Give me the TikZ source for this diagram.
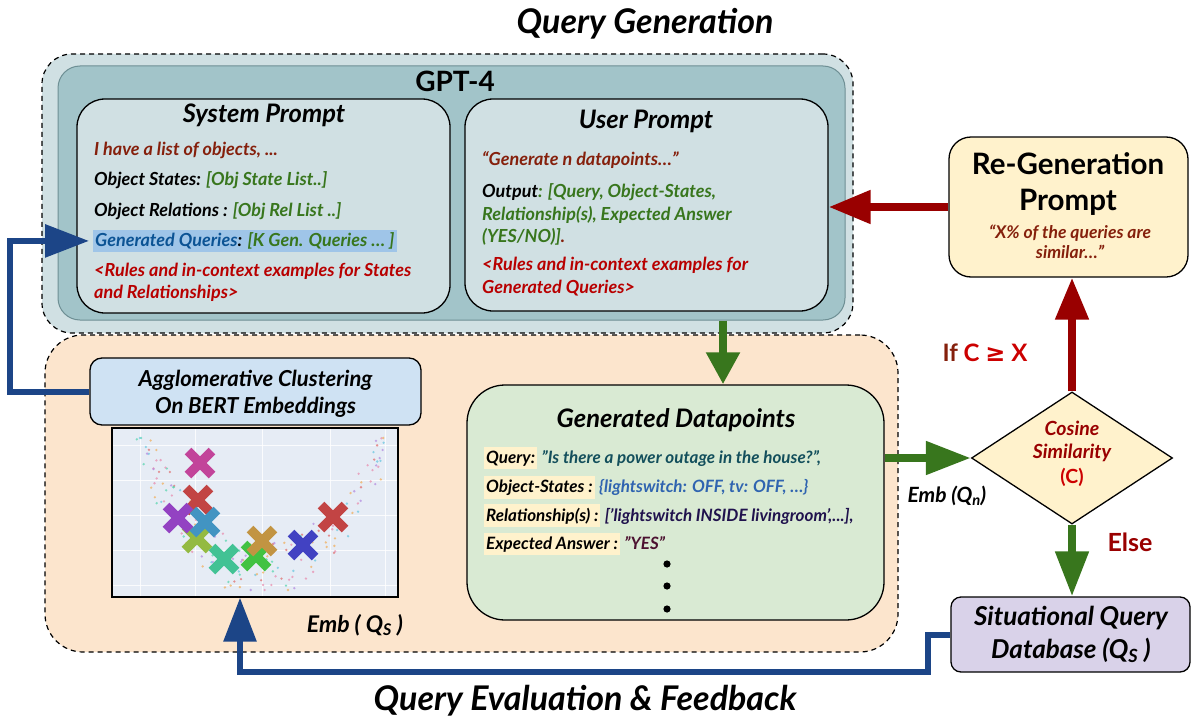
\documentclass[tikz,border=0pt]{standalone}
\usepackage{fontspec}
\setmainfont{Lato}
\newfontfamily\djv{DejaVu Sans}
\usetikzlibrary{arrows.meta,shapes.geometric}
\definecolor{topfill}{HTML}{D0E0E3}
\definecolor{gptfill}{HTML}{A2C4C9}
\definecolor{gptline}{HTML}{6E8F94}
\definecolor{lowfill}{HTML}{FCE5CD}
\definecolor{aggfill}{HTML}{CFE2F3}
\definecolor{plotfill}{HTML}{E6ECF5}
\definecolor{gdpfill}{HTML}{D9EAD3}
\definecolor{yelfill}{HTML}{FFF2CC}
\definecolor{sitfill}{HTML}{D9D2E9}
\definecolor{hlblue}{HTML}{9FC5E8}
\definecolor{dred}{HTML}{85200C}
\definecolor{rred}{HTML}{B80000}
\definecolor{ggreen}{HTML}{38761D}
\definecolor{qblue}{HTML}{0B5394}
\definecolor{qteal}{HTML}{134F5C}
\definecolor{osblue}{HTML}{2F64B0}
\definecolor{relpur}{HTML}{20124D}
\definecolor{yesmar}{HTML}{4C1130}
\definecolor{brightred}{HTML}{CC0000}
\definecolor{arred}{HTML}{990000}
\definecolor{argreen}{HTML}{38761D}
\definecolor{arblue}{HTML}{1C4587}
\definecolor{xmag}{HTML}{C2449A}
\definecolor{xred}{HTML}{C24444}
\definecolor{xpur}{HTML}{9342C2}
\definecolor{xcyan}{HTML}{4294C2}
\definecolor{xolive}{HTML}{94BA42}
\definecolor{xteal}{HTML}{42C294}
\definecolor{xgreen}{HTML}{42C242}
\definecolor{xbrown}{HTML}{C29442}
\definecolor{xblue}{HTML}{4242C2}
\definecolor{dA}{HTML}{E88FB0}
\definecolor{dB}{HTML}{B48CE0}
\definecolor{dC}{HTML}{5CD6B0}
\definecolor{dD}{HTML}{F0B060}
\definecolor{dE}{HTML}{E07070}
\definecolor{dF}{HTML}{6CC8E0}
\begin{document}
\begin{tikzpicture}[x=1pt,y=-1pt,
  boxnode/.style={draw=black, line width=1.3pt, inner sep=0pt},
  dashbox/.style={draw=black, line width=1.2pt, dash pattern=on 5pt off 4pt, inner sep=0pt},
  bodytxt/.style={inner sep=0pt, anchor=base west, font=\fontsize{18}{21}\selectfont\bfseries\itshape},
  dptxt/.style={inner sep=0pt, anchor=base west, font=\fontsize{17}{20}\selectfont\bfseries\itshape},
  ctr/.style={inner sep=0pt, anchor=base},
  boxtitle/.style={ctr, font=\fontsize{25.5}{30}\selectfont\bfseries\itshape},
  bigtitle/.style={ctr, font=\fontsize{34}{40}\selectfont\bfseries\itshape},
  gptitle/.style={ctr, font=\fontsize{28}{32}\selectfont\bfseries},
  redarrow/.style={draw=arred, line width=8pt, -{Triangle[length=42pt,width=32pt]}},
  greenarrow/.style={draw=argreen, line width=8pt, -{Triangle[length=45pt,width=32pt]}},
  bluearrow/.style={draw=arblue, line width=6pt, -{Triangle[length=44pt,width=32pt]}},
  xmark/.style={line width=9.5pt}
]
\useasboundingbox (0,0) rectangle (1191,717);

% ---------- top region ----------
\node[bigtitle] (titletop) at (645,34) {Query Generation};
\node[dashbox, fill=topfill, rounded corners=30pt, minimum width=811pt, minimum height=279pt] (topouter) at (447.5,193.5) {};
\node[draw=gptline, line width=1pt, fill=gptfill, rounded corners=22pt, inner sep=0pt, minimum width=787pt, minimum height=254pt] (gpt) at (451.5,193) {};
\node[gptitle] (gpttitle) at (455,92) {GPT-4};

\node[boxnode, fill=topfill, rounded corners=28pt, minimum width=373pt, minimum height=214pt] (sys) at (263.5,206) {};
\node[boxtitle] (systitle) at (264,122) {System Prompt};
\node[bodytxt] (s1) at (94,155) {\color{dred}I have a list of objects, ...};
\node[bodytxt] (s2) at (94,185) {Object States: \color{ggreen}[Obj State List..]};
\node[bodytxt] (s3) at (94,216.5) {Object Relations : \color{ggreen}[Obj Rel List ..]};
\node[bodytxt, fill=hlblue, inner xsep=2pt, inner ysep=3pt] (gq) at (93,246.5) {{\color{qblue}Generated Queries}: \color{ggreen}[K Gen. Queries … ]};
\node[bodytxt] (s5) at (94,276.5) {\color{rred}<Rules and in-context examples for States};
\node[bodytxt] (s6) at (94,298.5) {\color{rred}and Relationships>};

\node[boxnode, fill=topfill, rounded corners=28pt, minimum width=363pt, minimum height=212pt] (user) at (646.5,205) {};
\node[boxtitle] (usertitle) at (646,128) {User Prompt};
\node[bodytxt] (u1) at (482,165) {\color{dred}“Generate n datapoints…”};
\node[bodytxt] (u2) at (482,197) {Output\color{ggreen}: [Query, Object-States,};
\node[bodytxt] (u3) at (482,220) {\color{ggreen}Relationship(s), Expected Answer};
\node[bodytxt] (u4) at (482,242) {\color{ggreen}(YES/NO)]{\color{dred}.}};
\node[bodytxt] (u5) at (482,270) {\color{rred}<Rules and in-context examples for};
\node[bodytxt] (u6) at (482,293) {\color{rred}Generated Queries>};

% ---------- lower region ----------
\node[dashbox, fill=lowfill, rounded corners=38pt, minimum width=853pt, minimum height=317pt] (lower) at (471.5,493.5) {};

\node[boxnode, fill=aggfill, rounded corners=12pt, minimum width=331pt, minimum height=67pt] (agg) at (255.5,391.5) {};
\node[ctr, font=\fontsize{22}{26}\selectfont\bfseries\itshape] (agg1) at (255.5,386) {Agglomerative Clustering};
\node[ctr, font=\fontsize{22}{26}\selectfont\bfseries\itshape] (agg2) at (255.5,413) {On BERT Embeddings};

\node[draw=black, line width=1.3pt, fill=plotfill, inner sep=0pt, minimum width=286pt, minimum height=169pt] (plot) at (255,512.5) {};
\begin{scope}
  \clip (113,429) rectangle (397,596);
  \foreach \gx in {140,195,262,330,385} {\draw[white, line width=0.7pt, opacity=0.8] (\gx,429) -- (\gx,596);}
  \foreach \gy in {445,480,515,550,585} {\draw[white, line width=0.7pt, opacity=0.8] (113,\gy) -- (397,\gy);}
  \pgfmathsetseed{42}
  \pgfmathdeclarerandomlist{dotc}{{dA}{dB}{dC}{dD}{dE}{dF}}
  \foreach \i in {1,...,170} {
    \pgfmathsetmacro\px{135+250*rnd}
    \pgfmathsetmacro\py{max(438,min(590,572-0.0085*(\px-262)*(\px-262)+56*(rnd-0.5)))}
    \pgfmathrandomitem{\dcol}{dotc}
    \fill[\dcol, opacity=0.75] (\px,\py) circle[radius=1.3pt];
  }
  \foreach \cx/\cy/\cc in {200/463/xmag, 198/500/xred, 197/538/xolive, 178/518/xpur, 205/522/xcyan, 224/559/xteal, 256/556/xgreen, 262/541/xbrown, 303/545/xblue, 333/517/xred} {
    \draw[xmark, \cc] (\cx-12,\cy-12) -- (\cx+12,\cy+12);
    \draw[xmark, \cc] (\cx-12,\cy+12) -- (\cx+12,\cy-12);
  }
\end{scope}
\node[ctr, font=\fontsize{23}{27}\selectfont\bfseries\itshape] (embqs) at (355,632) {Emb ( Q\textsubscript{S} )};

\node[boxnode, fill=gdpfill, rounded corners=38pt, minimum width=417pt, minimum height=235pt] (gendp) at (675.5,502.5) {};
\node[boxtitle] (gdptitle) at (676,427) {Generated Datapoints};
\tikzset{hl/.style={dptxt, fill=yelfill, inner xsep=2pt, inner ysep=3.5pt}}
\node[hl] (d1) at (484,463) {Query:};
\node[dptxt] (d1v) at ([xshift=4pt]d1.base east) {\color{qteal}"Is there a power outage in the house?",};
\node[hl] (d2) at (484,492) {Object-States :};
\node[dptxt] (d2v) at ([xshift=4pt]d2.base east) {\color{osblue}\{lightswitch: OFF, tv: OFF, …\}};
\node[hl] (d3) at (484,521) {Relationship(s) :};
\node[dptxt] (d3v) at ([xshift=4pt]d3.base east) {\color{relpur}['lightswitch INSIDE livingroom',...],};
\node[hl] (d4) at (484,549) {Expected Answer :};
\node[dptxt] (d4v) at ([xshift=4pt]d4.base east) {\color{yesmar}"YES"};
\foreach \dy in {564,586,609} {\fill (667,\dy) circle[radius=3.6pt];}

% ---------- right side ----------
\node[boxnode, fill=yelfill, rounded corners=22pt, minimum width=239pt, minimum height=140pt] (regen) at (1068.5,207) {};
\node[ctr, font=\fontsize{29.5}{34}\selectfont\bfseries] (regen1) at (1068,174) {Re-Generation};
\node[ctr, font=\fontsize{29.5}{34}\selectfont\bfseries] (regen2) at (1068,210) {Prompt};
\node[ctr, font=\fontsize{17.5}{21}\selectfont\bfseries\itshape, text=dred] (regen3) at (1070,238.5) {“X\% of the queries are};
\node[ctr, font=\fontsize{17.5}{21}\selectfont\bfseries\itshape, text=dred] (regen4) at (1070,258) {similar…”};

\node[draw=black, line width=1.3pt, fill=yelfill, diamond, aspect=1.52, inner sep=0pt, minimum width=201pt, minimum height=132pt] (dia) at (1072,458) {};
\node[ctr, font=\fontsize{19.5}{23}\selectfont\bfseries\itshape, text=arred] (dia1) at (1072,435) {Cosine};
\node[ctr, font=\fontsize{19.5}{23}\selectfont\bfseries\itshape, text=arred] (dia2) at (1072,458.5) {Similarity};
\node[ctr, font=\fontsize{19.5}{23}\selectfont\bfseries, text=brightred] (dia3) at (1072,483) {(C)};

\node[ctr, font=\fontsize{24}{28}\selectfont\bfseries] (ifc) at (985,361.5) {{\color{dred}If} {\color{brightred}C {\djv ≥} X}};
\node[ctr, font=\fontsize{25}{29}\selectfont\bfseries, text=arred] (elsetxt) at (1130,551.5) {Else};
\node[ctr, font=\fontsize{21}{25}\selectfont\bfseries\itshape] (embqn) at (947,502.5) {Emb (Q\textsubscript{n})};

\node[boxnode, fill=sitfill, rounded corners=10pt, minimum width=239pt, minimum height=75pt] (sit) at (1070.5,634.5) {};
\node[ctr, font=\fontsize{26}{30}\selectfont\bfseries\itshape] (sit1) at (1071,625) {Situational Query};
\node[ctr, font=\fontsize{26}{30}\selectfont\bfseries\itshape] (sit2) at (1071,658) {Database (Q\textsubscript{S} )};

\node[bigtitle] (titlebot) at (585,710) {Query Evaluation \& Feedback};

% ---------- connectors ----------
\coordinate (gx) at (723,0);
\draw[greenarrow, -{Triangle[length=32pt,width=32pt]}] (gx |- gpt.south) -- (gx |- gendp.north);
\draw[redarrow] (regen.west) -- (user.east |- regen.west);
\draw[redarrow] (dia.north) -- (dia.north |- regen.south);
\draw[greenarrow] (gendp.east |- dia.west) -- (dia.west);
\draw[greenarrow] (dia.south) -- (dia.south |- sit.north);
\coordinate (bl) at (10,300);
\draw[bluearrow] (agg.west) -| (bl) |- ([xshift=-4pt]gq.west);
\coordinate (b1) at (928,672);
\draw[bluearrow] (sit.west) -| (b1) -| ([xshift=-15pt]plot.south);
\end{tikzpicture}
\end{document}
